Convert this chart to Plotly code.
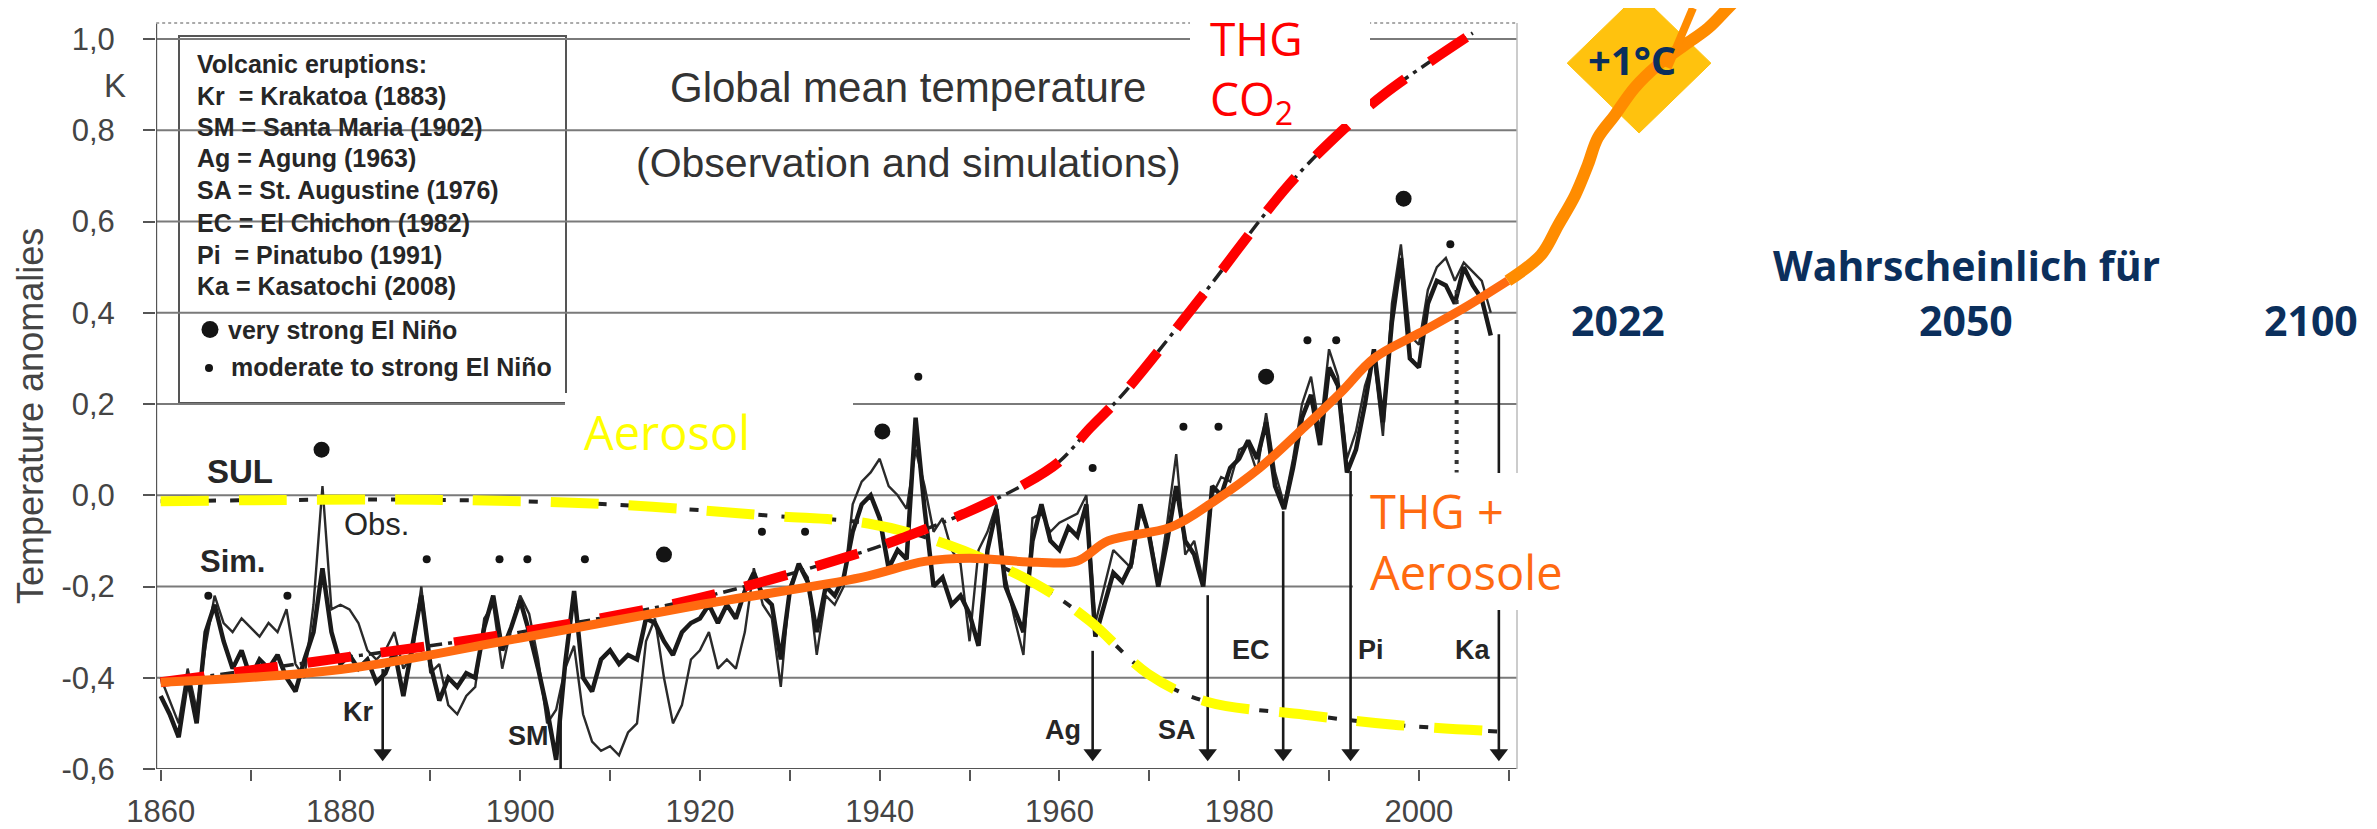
import plotly.graph_objects as go

# ---------------- data ----------------
years = list(range(1860, 2009))
obs_anom = [
    -0.40, -0.45, -0.50, -0.38, -0.47, -0.33, -0.22, -0.28, -0.30, -0.27,
    -0.29, -0.31, -0.28, -0.30, -0.25, -0.37, -0.40, -0.24, 0.02, -0.25,
    -0.24, -0.25, -0.28, -0.34, -0.36, -0.34, -0.30, -0.38, -0.35, -0.20,
    -0.39, -0.37, -0.46, -0.48, -0.44, -0.42, -0.27, -0.24, -0.38, -0.29,
    -0.22, -0.26, -0.36, -0.50, -0.47, -0.38, -0.33, -0.48, -0.54, -0.56,
    -0.55, -0.57, -0.52, -0.50, -0.32, -0.27, -0.40, -0.50, -0.46, -0.36,
    -0.34, -0.30, -0.38, -0.36, -0.38, -0.30, -0.16, -0.24, -0.27, -0.42,
    -0.20, -0.15, -0.18, -0.35, -0.22, -0.24, -0.20, -0.02, 0.03, 0.05,
    0.08, 0.02, 0.00, -0.03, 0.10, 0.02, -0.08, -0.05, -0.12, -0.15,
    -0.32, -0.12, -0.08, -0.02, -0.18, -0.27, -0.35, -0.05, -0.04, -0.08,
    -0.06, -0.05, -0.04, 0.00, -0.28, -0.20, -0.12, -0.14, -0.16, -0.04,
    -0.08, -0.19, -0.06, 0.09, -0.13, -0.10, -0.19, 0.00, 0.04, 0.03,
    0.10, 0.11, 0.05, 0.18, 0.05, -0.02, 0.08, 0.20, 0.26, 0.14,
    0.32, 0.26, 0.08, 0.14, 0.24, 0.30, 0.13, 0.42, 0.55, 0.35,
    0.33, 0.45, 0.50, 0.52, 0.47, 0.51, 0.49, 0.47, 0.40,
]
sim_anom = [
    -0.44, -0.48, -0.53, -0.40, -0.50, -0.30, -0.24, -0.32, -0.38, -0.34,
    -0.40, -0.36, -0.38, -0.35, -0.40, -0.43, -0.36, -0.30, -0.16, -0.30,
    -0.37, -0.35, -0.38, -0.36, -0.41, -0.39, -0.34, -0.44, -0.33, -0.22,
    -0.37, -0.45, -0.40, -0.42, -0.39, -0.40, -0.29, -0.22, -0.34, -0.29,
    -0.23, -0.30, -0.38, -0.47, -0.58, -0.37, -0.21, -0.40, -0.43, -0.36,
    -0.34, -0.37, -0.35, -0.36, -0.27, -0.28, -0.32, -0.35, -0.30, -0.28,
    -0.27, -0.24, -0.28, -0.24, -0.27, -0.21, -0.17, -0.22, -0.24, -0.36,
    -0.21, -0.15, -0.19, -0.30, -0.20, -0.22, -0.18, -0.08, -0.02, 0.00,
    -0.05, -0.16, -0.12, -0.14, 0.17, -0.03, -0.20, -0.18, -0.24, -0.22,
    -0.26, -0.33, -0.12, -0.03, -0.20, -0.25, -0.30, -0.10, -0.02, -0.10,
    -0.12, -0.07, -0.09, -0.02, -0.31, -0.24, -0.17, -0.19, -0.15, -0.02,
    -0.09, -0.20, -0.10, 0.02, -0.10, -0.13, -0.20, 0.02, 0.00, 0.06,
    0.08, 0.12, 0.08, 0.16, 0.02, -0.03, 0.06, 0.17, 0.22, 0.11,
    0.28, 0.24, 0.05, 0.10, 0.20, 0.32, 0.16, 0.38, 0.52, 0.30,
    0.28, 0.42, 0.47, 0.46, 0.42, 0.50, 0.46, 0.43, 0.35,
]

thg_years = [1860, 1880, 1900, 1920, 1938, 1943, 1950, 1956, 1960, 1963.4, 1967, 1976, 1985.5, 1991.5, 1996.2, 2006]
thg_vals = [-0.41, -0.357, -0.30, -0.225, -0.125, -0.09, -0.035, 0.023, 0.074, 0.147, 0.22, 0.44, 0.68, 0.80, 0.88, 1.013]

aer_years = [1860, 1890, 1910, 1928, 1938.7, 1947.5, 1957.5, 1963.4, 1969.9, 1976.3, 1987.3, 1997.2, 2009.1]
aer_vals = [-0.013, -0.01, -0.02, -0.045, -0.062, -0.108, -0.196, -0.276, -0.392, -0.452, -0.481, -0.503, -0.518]

comb_years = [1860, 1880, 1900, 1920, 1938, 1945, 1950, 1957.5, 1962, 1965.4, 1972.4, 1977.3, 1982.3, 1987.3, 1991.3, 1995, 2000, 2005, 2009.9]
comb_vals = [-0.41, -0.382, -0.313, -0.24, -0.18, -0.145, -0.138, -0.147, -0.144, -0.10, -0.07, -0.012, 0.06, 0.15, 0.225, 0.30, 0.355, 0.41, 0.47]

proj_years = [2009.9, 2013.6, 2015.5, 2017.4, 2018.8, 2019.9, 2021.8, 2024.0, 2026.6, 2029.6, 2032.2, 2034.4, 2036.0]
proj_vals = [0.470, 0.527, 0.592, 0.658, 0.724, 0.783, 0.833, 0.893, 0.943, 0.987, 1.024, 1.068, 1.10]

pointer_years = [2027.7, 2030.5]
pointer_vals = [0.937, 1.068]

diamond_years = [2016.5, 2024.5, 2032.5, 2024.5, 2016.5]
diamond_vals = [0.947, 1.100, 0.947, 0.794, 0.947]

nino_strong_years = [1877.9, 1916.0, 1940.3, 1983.0, 1998.3]
nino_strong_vals = [0.10, -0.13, 0.14, 0.26, 0.65]
nino_mod_years = [1865.3, 1874.1, 1889.6, 1897.7, 1900.8, 1907.2, 1926.9, 1931.7, 1944.3,
                  1963.7, 1973.8, 1977.7, 1987.6, 1990.8, 2003.5]
nino_mod_vals = [-0.22, -0.22, -0.14, -0.14, -0.14, -0.14, -0.08, -0.08, 0.26,
                 0.06, 0.15, 0.15, 0.34, 0.34, 0.55]

volc_names = ["Kr", "SM", "Ag", "SA", "EC", "Pi", "Ka"]
volc_years = [1884.7, 1904.5, 1963.7, 1976.5, 1984.9, 1992.4, 2008.9]
volc_top = [-0.381, -0.466, -0.341, -0.219, -0.035, 0.053, 0.353]
volc_tip = [-0.583, -0.635, -0.583, -0.583, -0.583, -0.583, -0.583]

ka_dot_years = [2004.2, 2004.2]
ka_dot_vals = [0.45, 0.05]

ytick_vals = [-0.6, -0.4, -0.2, 0.0, 0.2, 0.4, 0.6, 0.8, 1.0]
ytick_text = ["-0,6", "-0,4", "-0,2", "0,0", "0,2", "0,4", "0,6", "0,8", "1,0"]
xtick_vals = list(range(1860, 2011, 10))
xtick_text = [str(v) if (v - 1860) % 20 == 0 and v <= 2000 else "" for v in xtick_vals]

legend_lines = [
    "Volcanic eruptions:",
    "Kr\u00a0\u00a0= Krakatoa (1883)",
    "SM = Santa Maria (1902)",
    "Ag = Agung (1963)",
    "SA = St. Augustine (1976)",
    "EC = El Chichon (1982)",
    "Pi\u00a0\u00a0= Pinatubo (1991)",
    "Ka = Kasatochi (2008)",
]

# ---------------- geometry ----------------
W, H = 2377, 829
PL, PR, PT, PB = 148, 2377, 0, 761          # plot area in pixels
PX_PER_YEAR = 8.987
PX_PER_K = 456.25
X0 = 1860 - (152.7 - PL) / PX_PER_YEAR
X1 = X0 + (PR - PL) / PX_PER_YEAR
Y0 = -0.6
Y1 = Y0 + (PB - PT) / PX_PER_K
HEAD_PX = 16                                # arrowhead size in pixels


def fx(px):
    return (px - PL) / (PR - PL)


def fy(py):
    return (PB - py) / (PB - PT)


SCAN = "Liberation Sans, Arial, sans-serif"
OVER = "Open Sans, sans-serif"
NAVY = "#0b2f5c"
INK = "#262626"

fig = go.Figure()

# observation / simulation curves
fig.add_trace(go.Scatter(x=years, y=obs_anom, mode="lines",
                         line=dict(color="#2a2a2a", width=2.4)))
fig.add_trace(go.Scatter(x=years, y=sim_anom, mode="lines",
                         line=dict(color="#1a1a1a", width=4.5)))

# volcano arrows: shafts + heads
shaft_x, shaft_y = [], []
for yr, top, tip in zip(volc_years, volc_top, volc_tip):
    shaft_x += [yr, yr, None]
    shaft_y += [top, tip + 0.02, None]
fig.add_trace(go.Scatter(x=shaft_x, y=shaft_y, mode="lines",
                         line=dict(color="#1a1a1a", width=2.6)))
head_offset = (HEAD_PX / 2) / PX_PER_K
fig.add_trace(go.Scatter(x=volc_years, y=[t + head_offset for t in volc_tip],
                         mode="markers", cliponaxis=False,
                         marker=dict(symbol="triangle-down", size=HEAD_PX, color="#1a1a1a",
                                     line=dict(width=0))))
fig.add_trace(go.Scatter(x=ka_dot_years, y=ka_dot_vals, mode="lines",
                         line=dict(color="#333", width=4, dash="4px,6px")))

# El Nino dots
fig.add_trace(go.Scatter(x=nino_strong_years, y=nino_strong_vals, mode="markers",
                         marker=dict(color="#141414", size=16)))
fig.add_trace(go.Scatter(x=nino_mod_years, y=nino_mod_vals, mode="markers",
                         marker=dict(color="#141414", size=8)))

# SUL (black dotted) + yellow aerosol overlay
fig.add_trace(go.Scatter(x=aer_years, y=aer_vals, mode="lines", line_shape="spline",
                         line=dict(color="#222", width=4, dash="9px,14px")))
fig.add_trace(go.Scatter(x=aer_years, y=aer_vals, mode="lines", line_shape="spline",
                         line=dict(color="#ffff00", width=10, dash="48px,30px")))

# THG (black dash-dot) + red overlay
fig.add_trace(go.Scatter(x=thg_years, y=thg_vals, mode="lines", line_shape="spline",
                         line=dict(color="#222", width=3.5, dash="14px,6px,4px,6px")))
fig.add_trace(go.Scatter(x=thg_years, y=thg_vals, mode="lines", line_shape="spline",
                         line=dict(color="#ff0000", width=10, dash="44px,30px")))

# +1 degree diamond
fig.add_trace(go.Scatter(x=diamond_years, y=diamond_vals, mode="lines", fill="toself",
                         fillcolor="#ffc20e", line=dict(color="#ffc20e", width=1)))

# combined (THG + Aerosole) curve and its continuation
fig.add_trace(go.Scatter(x=comb_years, y=comb_vals, mode="lines", line_shape="spline",
                         line=dict(color="#ff6a10", width=9)))
fig.add_trace(go.Scatter(x=proj_years, y=proj_vals, mode="lines", line_shape="spline",
                         line=dict(color="#ff8c00", width=12)))
fig.add_trace(go.Scatter(x=pointer_years, y=pointer_vals, mode="lines",
                         line=dict(color="#ff8c00", width=8)))

# ---------------- shapes ----------------
FX0 = X0 + 0.02
FX1 = 1860 + (1509 - 152.7) / PX_PER_YEAR
FYT = Y0 + (PB - 15) / PX_PER_K
shapes = []
for v in ytick_vals[1:]:
    shapes.append(dict(type="line", xref="x", yref="y", x0=FX0, x1=FX1, y0=v, y1=v,
                       line=dict(color="#7a7a7a", width=2), layer="below"))
# frame
shapes.append(dict(type="line", xref="x", yref="y", x0=FX0, x1=FX0, y0=Y0, y1=FYT,
                   line=dict(color="#555", width=2), layer="below"))
shapes.append(dict(type="line", xref="x", yref="y", x0=FX0, x1=FX1, y0=Y0, y1=Y0,
                   line=dict(color="#555", width=2), layer="below"))
shapes.append(dict(type="line", xref="x", yref="y", x0=FX0, x1=FX1, y0=FYT, y1=FYT,
                   line=dict(color="#aaa", width=2, dash="dot"), layer="below"))
shapes.append(dict(type="line", xref="x", yref="y", x0=FX1, x1=FX1, y0=Y0, y1=FYT,
                   line=dict(color="#bbb", width=1.5), layer="below"))
# legend box
shapes.append(dict(type="rect", xref="paper", yref="paper",
                   x0=fx(171), x1=fx(558), y0=fy(395), y1=fy(28),
                   fillcolor="white", line=dict(color="#555", width=2), layer="below"))
# legend dots
shapes.append(dict(type="circle", xref="paper", yref="paper",
                   x0=fx(193.5), x1=fx(210.5), y0=fy(330), y1=fy(313),
                   fillcolor="#141414", line=dict(width=0)))
shapes.append(dict(type="circle", xref="paper", yref="paper",
                   x0=fx(197), x1=fx(205), y0=fy(364), y1=fy(356),
                   fillcolor="#141414", line=dict(width=0)))
# white patches behind overlay labels
shapes.append(dict(type="rect", xref="paper", yref="paper",
                   x0=fx(1182), x1=fx(1362), y0=fy(116), y1=fy(0),
                   fillcolor="white", line=dict(width=0), layer="above"))
shapes.append(dict(type="rect", xref="paper", yref="paper",
                   x0=fx(557), x1=fx(845), y0=fy(462), y1=fy(385),
                   fillcolor="white", line=dict(width=0), layer="above"))
shapes.append(dict(type="rect", xref="paper", yref="paper",
                   x0=fx(1345), x1=fx(1572), y0=fy(602), y1=fy(465),
                   fillcolor="white", line=dict(width=0), layer="above"))

# ---------------- annotations ----------------
ann = []


def note(text, px, py, size, color, family=SCAN, xanchor="center", yanchor="middle", **kw):
    ann.append(dict(text=text, x=fx(px), y=fy(py), xref="paper", yref="paper",
                    showarrow=False, xanchor=xanchor, yanchor=yanchor,
                    font=dict(size=size, color=color, family=family), **kw))


# axis title and unit
note("Temperature anomalies", 22, 408, 36, "#444", textangle=-90)
note("K", 107, 78, 33, "#444")

# legend text
legend_y = [56, 88, 119, 150, 182, 215, 247, 278]
for t, py in zip(legend_lines, legend_y):
    note("<b>%s</b>" % t, 187, py, 25, INK, xanchor="left")
note("<b>very strong El Niño</b>", 218, 322, 25, INK, xanchor="left")
note("<b>moderate to strong El Niño</b>", 221, 359, 25, INK, xanchor="left")

# titles inside the scan
note("Global mean temperature", 900, 80, 42, "#333")
note("(Observation and simulations)", 900, 155, 41, "#333")

# scan labels
note("<b>SUL</b>", 232, 463, 33, INK)
note("Obs.", 368, 516, 31, INK)
note("<b>Sim.</b>", 224, 553, 31, INK)
volc_label_pos = [(350, 704), (520, 728), (1055, 722), (1169, 722), (1243, 642), (1363, 642), (1464, 642)]
for name, (px, py) in zip(volc_names, volc_label_pos):
    note("<b>%s</b>" % name, px, py, 27, INK)

# overlay labels
note("THG<br>CO<sub>2</sub>", 1200, 62, 46, "#ff0000", family=OVER, xanchor="left", align="left")
note("Aerosol", 574, 424, 47, "#ffff00", family=OVER, xanchor="left")
note("THG +<br>Aerosole", 1360, 533, 47, "#ff6a10", family=OVER, xanchor="left", align="left")

note("<b>+1°C</b>", 1624, 51, 40, NAVY, family=OVER)
note("<b>Wahrscheinlich für</b>", 1958, 257, 41, NAVY, family=OVER)
note("<b>2022</b>", 1610, 312, 41, NAVY, family=OVER)
note("<b>2050</b>", 1958, 312, 41, NAVY, family=OVER)
note("<b>2100</b>", 2303, 312, 41, NAVY, family=OVER)

fig.update_layout(
    width=W, height=H,
    margin=dict(l=PL, r=W - PR, t=PT, b=H - PB, pad=0),
    paper_bgcolor="white", plot_bgcolor="white",
    showlegend=False,
    xaxis=dict(range=[X0, X1], tickvals=xtick_vals, ticktext=xtick_text,
               ticks="outside", ticklen=11, tickwidth=2, tickcolor="#555",
               showgrid=False, zeroline=False, showline=False,
               tickfont=dict(size=31, color="#444", family=SCAN),
               ticklabelstandoff=4),
    yaxis=dict(range=[Y0, Y1], tickvals=ytick_vals, ticktext=ytick_text,
               ticks="outside", ticklen=12, tickwidth=2, tickcolor="#555",
               showgrid=False, zeroline=False, showline=False,
               tickfont=dict(size=31, color="#444", family=SCAN),
               ticklabelstandoff=22),
    shapes=shapes,
    annotations=ann,
)

fig.write_html("out.html")
